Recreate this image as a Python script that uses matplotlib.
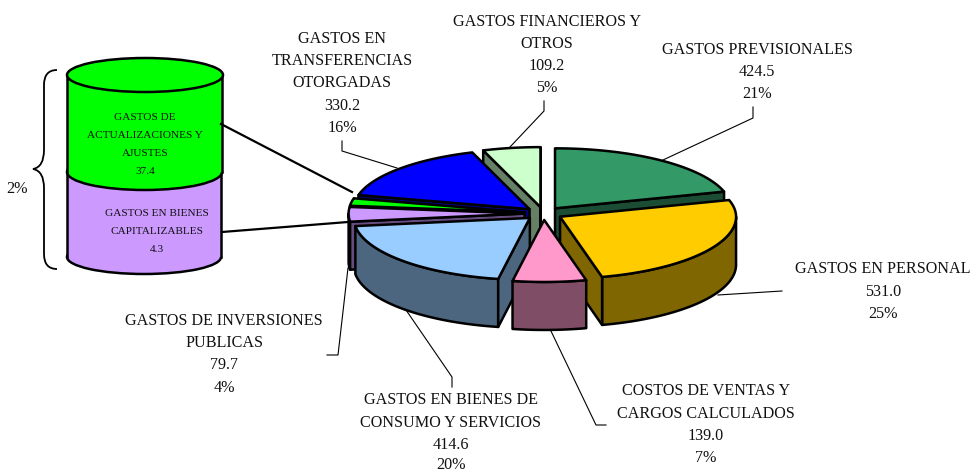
import numpy as np
import matplotlib
matplotlib.use("Agg")
from matplotlib import pyplot as plt
from matplotlib.patches import Polygon, Ellipse, PathPatch
from matplotlib.path import Path

plt.rcParams['font.family'] = ['Liberation Serif', 'DejaVu Serif']

# pie values, clockwise from 12 o'clock
names = ['previsionales', 'personal', 'costos', 'consumo', 'inversiones', 'otros', 'transferencias', 'financieros']
values = [424.5, 531.0, 139.0, 414.6, 79.7, 41.7, 330.2, 109.2]
tops = ['#339966', '#FFCC00', '#FF99CC', '#99CCFF', '#CC99FF', '#00FF00', '#0000FF', '#CCFFCC']
sides = ['#1A4D33', '#806600', '#804D66', '#4D6680', '#664D80', '#008000', '#000080', '#668066']

# the two parts of the 2% slice shown in the cylinder
cyl_green_lines = ['GASTOS DE', 'ACTUALIZACIONES Y', 'AJUSTES', '37.4']
cyl_purple_lines = ['GASTOS EN BIENES', 'CAPITALIZABLES', '4.3']

# label text, centre x, y of each line
labels = [
    (['GASTOS PREVISIONALES', '424.5', '21%'], 757, [50, 72, 94]),
    (['GASTOS EN PERSONAL', '531.0', '25%'], 883, [269, 292, 314]),
    (['COSTOS DE VENTAS Y', 'CARGOS CALCULADOS', '139.0', '7%'], 706, [391, 414, 436, 458]),
    (['GASTOS EN BIENES DE', 'CONSUMO Y SERVICIOS', '414.6', '20%'], 451, [400, 423, 445, 465]),
    (['GASTOS DE INVERSIONES', 'PUBLICAS', '79.7', '4%'], 224, [321, 343, 365, 388]),
    (['GASTOS EN', 'TRANSFERENCIAS', 'OTORGADAS', '330.2', '16%'], 342, [39, 61, 83, 106, 128]),
    (['GASTOS FINANCIEROS Y', 'OTROS', '109.2', '5%'], 547, [22, 44, 66, 88]),
]

leaders = [
    [(753, 107), (753, 118), (663, 160)],
    [(782, 291), (718, 295)],
    [(606, 425), (596, 425), (550, 329)],
    [(452, 387), (452, 377), (406, 310)],
    [(327, 355), (338, 355), (348, 268)],
    [(342, 141), (342, 151), (397, 168)],
    [(544, 101), (544, 111), (510, 147)],
]

# pie geometry in pixels
cx, cy = 543.6, 213.5
rx = 176
ry_back, ry_front = 60, 62
explode = 19
depth = 48
ratio = 0.34
edge = 1.8

fig = plt.figure(figsize=(9.79, 4.74), dpi=100)
ax = fig.add_axes([0, 0, 1, 1])
ax.set_xlim(0, 979)
ax.set_ylim(474, 0)
ax.axis('off')


def rim(ox, oy, a, b):
    t = np.radians(np.linspace(a, b, max(int(abs(b - a) * 2), 2)))
    c = np.cos(t)
    return np.column_stack([ox + rx * np.sin(t), oy - np.where(c > 0, ry_back, ry_front) * c])


def poly(pts, color, z):
    ax.add_patch(Polygon(pts, closed=True, facecolor=color, edgecolor='black',
                         linewidth=edge, joinstyle='round', zorder=z))


vals = np.array(values)
ends = np.cumsum(vals) / vals.sum() * 360
starts = np.concatenate([[0], ends[:-1]])
mids = (starts + ends) / 2

# back to front
order = np.argsort(-np.cos(np.radians(mids)))
z = 5
for i in order:
    t0, t1, m = starts[i], ends[i], np.radians(mids[i])
    ox = cx + explode * np.sin(m)
    oy = cy - explode * ratio * np.cos(m)
    apex = np.array([[ox, oy]])
    down = np.array([0, depth])
    # outer wall, only the part that faces the front
    a, b = max(t0, 90), min(t1, 270)
    if b > a:
        r = rim(ox, oy, a, b)
        poly(np.vstack([r, r[::-1] + down]), sides[i], z)
    # cut faces
    if np.sin(np.radians(t0)) < 0:
        p = rim(ox, oy, t0, t0 + 0.1)[:1]
        poly(np.vstack([apex, p, p + down, apex + down]), sides[i], z)
    if np.sin(np.radians(t1)) > 0:
        p = rim(ox, oy, t1, t1 + 0.1)[:1]
        poly(np.vstack([apex, p, p + down, apex + down]), sides[i], z)
    poly(np.vstack([apex, rim(ox, oy, t0, t1)]), tops[i], z + 1)
    z += 2

# cylinder, bottom part first
ax.add_patch(Polygon([(67, 172), (67, 257), (221, 257), (222, 172)], facecolor='#CC99FF', edgecolor='none', zorder=2))
ax.add_patch(Ellipse((144, 257), 154, 34, facecolor='#CC99FF', edgecolor='black', linewidth=edge, zorder=1.5))
ax.plot([67, 67], [172, 257], color='black', lw=edge, zorder=3)
ax.plot([221, 221], [172, 257], color='black', lw=edge, zorder=3)
ax.add_patch(Polygon([(67, 75), (67, 172), (222, 172), (223, 75)], facecolor='#00FF00', edgecolor='none', zorder=3.2))
ax.add_patch(Ellipse((144.5, 172), 155, 36, facecolor='#00FF00', edgecolor='black', linewidth=edge, zorder=3.1))
ax.plot([67, 67], [75, 172], color='black', lw=edge, zorder=3.3)
ax.plot([222.5, 222.5], [75, 172], color='black', lw=edge, zorder=3.3)
ax.add_patch(Ellipse((145, 75), 156, 34, facecolor='#00FF00', edgecolor='black', linewidth=edge, zorder=3.4))

# brace
brace = Path([(57, 70), (44, 70), (44, 85), (44, 150), (44, 167), (33, 169),
              (44, 171), (44, 188), (44, 254), (44, 269), (57, 269)],
             [Path.MOVETO, Path.CURVE3, Path.CURVE3, Path.LINETO, Path.CURVE3, Path.CURVE3,
              Path.CURVE3, Path.CURVE3, Path.LINETO, Path.CURVE3, Path.CURVE3])
ax.add_patch(PathPatch(brace, facecolor='none', edgecolor='black', linewidth=1.3))

# leader lines
for pts in leaders:
    xs, ys = zip(*pts)
    ax.plot(xs, ys, color='black', lw=0.8, zorder=4)
ax.plot([221, 352], [124, 192], color='black', lw=1.6, zorder=4)
ax.plot([222, 348], [232, 222], color='black', lw=1.6, zorder=4)

# texts
for lines, x, ys in labels:
    for s, y in zip(lines, ys):
        ax.text(x, y, s, ha='center', va='center', fontsize=11.6, color='#111111', zorder=30)
ax.text(17, 189, '2%', ha='center', va='center', fontsize=11.6, color='#111111', zorder=30)
for s, y in zip(cyl_green_lines, [117, 135, 153, 171]):
    ax.text(145, y, s, ha='center', va='center', fontsize=8.1, color='#111111', zorder=30)
for s, y in zip(cyl_purple_lines, [213, 231, 249]):
    ax.text(157, y, s, ha='center', va='center', fontsize=8.1, color='#111111', zorder=30)

fig.savefig('out.png', dpi=100)
